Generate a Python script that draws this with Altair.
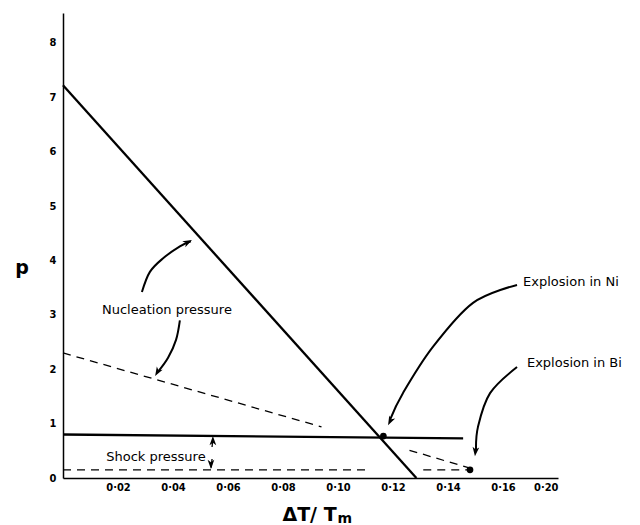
import altair as alt
import pandas as pd

# ---- data ----
# steep solid line (nucleation pressure, Ni)
steep_x = [0.0, 0.1285]
steep_y = [7.22, 0.0]
# solid near-horizontal line (shock pressure, Ni)
shock_x = [0.0, 0.1455]
shock_y = [0.80, 0.73]
# dashed sloping line (nucleation pressure, Bi) – two visible pieces
nucb1_x = [0.0, 0.094]
nucb1_y = [2.30, 0.94]
nucb2_x = [0.126, 0.148]
nucb2_y = [0.51, 0.18]
# dashed horizontal line (shock pressure, Bi) – two visible pieces
shb1_x = [0.0, 0.111]
shb1_y = [0.15, 0.15]
shb2_x = [0.131, 0.148]
shb2_y = [0.15, 0.15]
# explosion points
dot_x = [0.1165, 0.148]
dot_y = [0.77, 0.15]

# annotation arrows (curve points)
arr1_x = [0.0287, 0.0316, 0.0364, 0.0425, 0.0465]
arr1_y = [3.42, 3.79, 4.04, 4.26, 4.35]
arr2_x = [0.0425, 0.0411, 0.0382, 0.0345]
arr2_y = [2.90, 2.54, 2.21, 1.95]
arrni_x = [0.1651, 0.1491, 0.1345, 0.1236, 0.1189]
arrni_y = [3.55, 3.22, 2.41, 1.56, 1.07]
arrbi_x = [0.1651, 0.1553, 0.1509, 0.1502]
arrbi_y = [2.04, 1.56, 0.94, 0.48]
arrsu_x = [0.0542, 0.0545]
arrsu_y = [0.57, 0.72]
arrsd_x = [0.0542, 0.0539]
arrsd_y = [0.35, 0.19]
# arrow tips and headings (degrees clockwise from up)
tip_x = [0.0469, 0.0335, 0.1182, 0.1498, 0.0545, 0.0538]
tip_y = [4.375, 1.875, 0.97, 0.40, 0.77, 0.165]
tip_angle = [63, 210, 207, 186, 0, 180]

x_ticks = [0.02, 0.04, 0.06, 0.08, 0.10, 0.12, 0.14, 0.16, 0.18]
y_ticks = [0, 1, 2, 3, 4, 5, 6, 7, 8]

labels_text = ["Nucleation pressure", "Shock pressure"]
labels_x = [0.0378, 0.0338]
labels_y = [3.09, 0.39]
expl_text = ["Explosion  in  Ni", "Explosion  in  Bi"]
expl_x = [0.1673, 0.1687]
expl_y = [3.60, 2.11]


def seg_df(pairs):
    rows = []
    for sid, (xs, ys) in enumerate(pairs):
        for i, (a, b) in enumerate(zip(xs, ys)):
            rows.append({"x": a, "y": b, "seg": sid, "o": i})
    return pd.DataFrame(rows)


solid_df = seg_df([(steep_x, steep_y), (shock_x, shock_y)])
dash_df = seg_df([(nucb1_x, nucb1_y), (nucb2_x, nucb2_y), (shb1_x, shb1_y), (shb2_x, shb2_y)])
curve_df = seg_df([(arr1_x, arr1_y), (arr2_x, arr2_y), (arrni_x, arrni_y), (arrbi_x, arrbi_y)])
short_df = seg_df([(arrsu_x, arrsu_y), (arrsd_x, arrsd_y)])
tip_df = pd.DataFrame({"x": tip_x, "y": tip_y, "a": tip_angle})
dot_df = pd.DataFrame({"x": dot_x, "y": dot_y})
lab_df = pd.DataFrame({"x": labels_x, "y": labels_y, "t": labels_text})
expl_df = pd.DataFrame({"x": expl_x, "y": expl_y, "t": expl_text})

xs = alt.Scale(domain=[0, 0.18], nice=False, zero=False)
ys = alt.Scale(domain=[0, 8.55], nice=False, zero=False)

lab_font = "Liberation Sans Narrow, DejaVu Sans Condensed, Arial"

X = alt.X("x:Q", scale=xs, axis=alt.Axis(values=x_ticks, title=None,
          labelExpr="datum.value > 0.175 ? '0·20' : replace(format(datum.value, '.2f'), '.', '·')"))
Y = alt.Y("y:Q", scale=ys, axis=alt.Axis(values=y_ticks, title=None, format="d"))

solid = alt.Chart(solid_df).mark_line(color="black", strokeWidth=2.3).encode(
    x=X, y=Y, detail="seg:N", order="o:Q")
dashed = alt.Chart(dash_df).mark_line(color="black", strokeWidth=1.3, strokeDash=[8, 6]).encode(
    x="x:Q", y="y:Q", detail="seg:N", order="o:Q")
curves = alt.Chart(curve_df).mark_line(color="black", strokeWidth=2.0, interpolate="cardinal").encode(
    x="x:Q", y="y:Q", detail="seg:N", order="o:Q")
shorts = alt.Chart(short_df).mark_line(color="black", strokeWidth=1.3).encode(
    x="x:Q", y="y:Q", detail="seg:N", order="o:Q")
tips = alt.Chart(tip_df).mark_point(
    shape="M0,0L0.8,2.2L0,1.6L-0.8,2.2Z", filled=True, color="black", opacity=1, size=70
).encode(x="x:Q", y="y:Q", angle=alt.Angle("a:Q", scale=None))
dots = alt.Chart(dot_df).mark_circle(color="black", size=45, opacity=1).encode(x="x:Q", y="y:Q")
labs = alt.Chart(lab_df).mark_text(font="DejaVu Sans", fontSize=13, align="center", baseline="middle").encode(
    x="x:Q", y="y:Q", text="t:N")
expl = alt.Chart(expl_df).mark_text(font="DejaVu Sans", fontSize=13, align="left", baseline="middle").encode(
    x="x:Q", y="y:Q", text="t:N")

p_lab = alt.Chart(pd.DataFrame({"x": [-0.0149], "y": [3.86], "t": ["p"]})).mark_text(
    font="DejaVu Sans", fontSize=19, fontWeight="bold", align="center", baseline="middle").encode(
    x="x:Q", y="y:Q", text="t:N")
xt1 = alt.Chart(pd.DataFrame({"x": [0.0995], "y": [-0.68], "t": ["ΔT/ T"]})).mark_text(
    font="DejaVu Sans", fontSize=19, fontWeight="bold", align="right", baseline="middle").encode(
    x="x:Q", y="y:Q", text="t:N")
xt2 = alt.Chart(pd.DataFrame({"x": [0.0998], "y": [-0.75], "t": ["m"]})).mark_text(
    font="DejaVu Sans", fontSize=14, fontWeight="bold", align="left", baseline="middle").encode(
    x="x:Q", y="y:Q", text="t:N")

chart = alt.layer(solid, dashed, curves, shorts, tips, dots, labs, expl, p_lab, xt1, xt2).properties(
    width=495, height=465,
    autosize=alt.AutoSizeParams(type="none"),
    padding={"left": 55, "top": 5, "right": 74, "bottom": 50},
    background="white",
).configure_view(stroke=None).configure_axis(
    domainColor="black", domainWidth=1.5, ticks=False, grid=False,
    labelFont=lab_font, labelFontSize=11, labelFontWeight="bold", labelColor="black",
).configure_axisY(labelPadding=7).configure_axisX(labelPadding=3)

chart.save("out.html", embed_options={"renderer": "svg", "actions": False})
